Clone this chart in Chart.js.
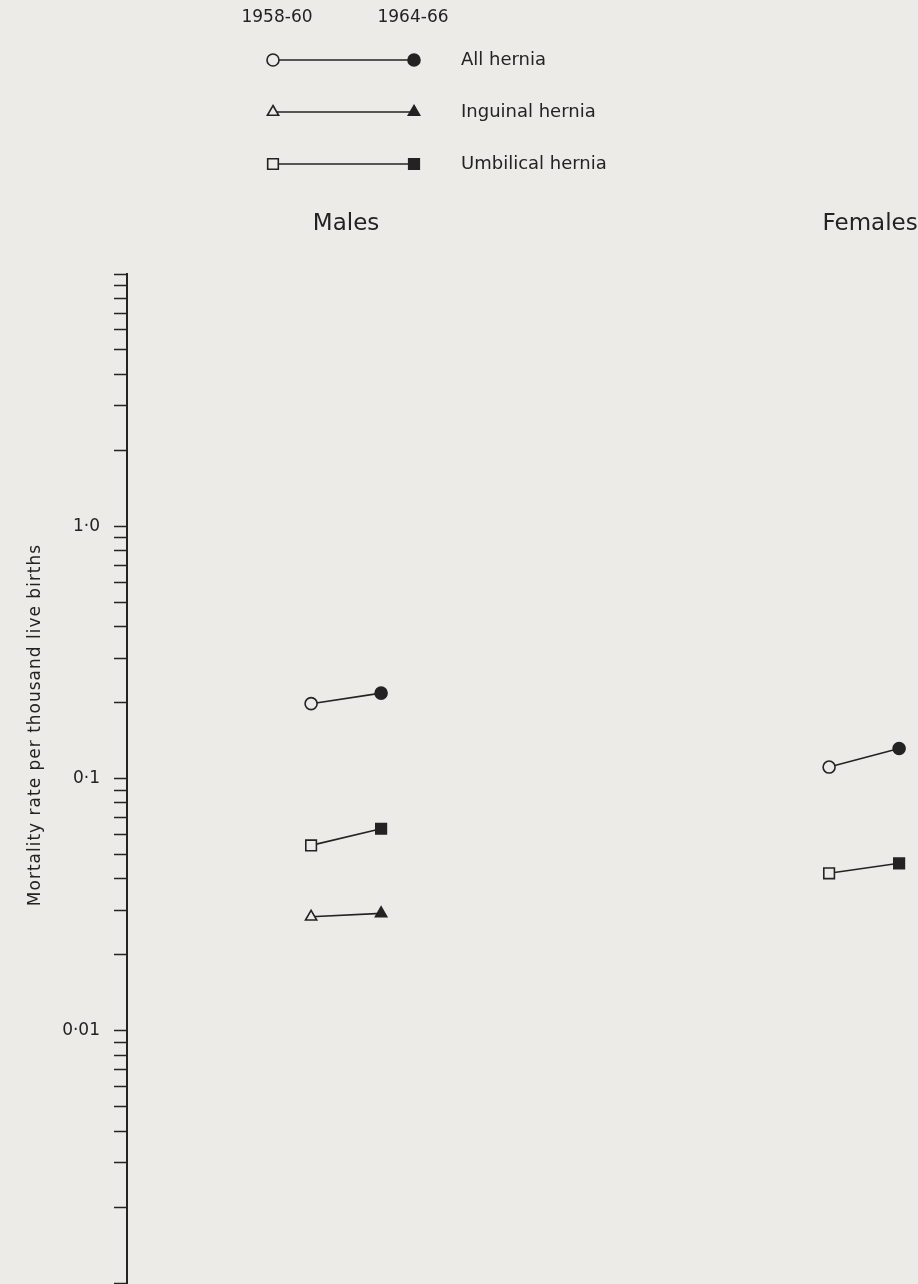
<!DOCTYPE html>
<html lang="en">
<head>
    <meta charset="UTF-8">
    <title>Hernia mortality</title>
    <style>
        body {
            margin: 0;
            background: #ecebe7;
        }
        #wrap {
            position: relative;
            width: 918px;
            height: 1284px;
        }
    </style>
    <script src="https://cdn.jsdelivr.net/npm/chart.js"></script>
</head>
<body>
    <div id="wrap"><canvas id="herniaChart"></canvas></div>

    <script>
        // Data (rate per 1000 live births)
        const periods = ['1958-60', '1964-66'];
        const groups = ['Males', 'Females'];
        const herniaTypes = ['All hernia', 'Inguinal hernia', 'Umbilical hernia'];

        const malesAll = [0.198, 0.218];
        const malesInguinal = [0.0283, 0.0292];
        const malesUmbilical = [0.0543, 0.0632];
        const femalesAll = [0.111, 0.1315];
        const femalesUmbilical = [0.0421, 0.0461];

        const labelledTicks = [0.01, 0.1, 1];
        const tickLabels = ['0·01', '0·1', '1·0'];
        const yTitle = 'Mortality rate per thousand live births';

        // Styling
        const ink = '#232323';
        const paper = '#ecebe7';
        const fontFamily = '"DejaVu Sans", sans-serif';
        const groupGap = 7.4;   // distance between Males and Females groups, in period units
        const markerStyles = ['circle', 'triangle', 'rect'];
        const markerRadius = [6, 6.5, 7.5];

        const series = [
            { group: 0, type: 0, values: malesAll },
            { group: 0, type: 1, values: malesInguinal },
            { group: 0, type: 2, values: malesUmbilical },
            { group: 1, type: 0, values: femalesAll },
            { group: 1, type: 2, values: femalesUmbilical }
        ];

        const datasets = series.map(s => ({
            label: groups[s.group] + ' ' + herniaTypes[s.type],
            data: s.values.map((v, i) => ({ x: s.group * groupGap + i, y: v })),
            showLine: true,
            borderColor: ink,
            borderWidth: 1.6,
            pointStyle: markerStyles[s.type],
            pointRadius: markerRadius[s.type],
            pointHoverRadius: markerRadius[s.type],
            pointBorderWidth: 1.6,
            pointBorderColor: ink,
            pointBackgroundColor: periods.map((p, i) => i === 0 ? paper : ink),
            clip: false
        }));

        // log ticks 1..9 per decade between 0.001 and 10
        const allTicks = [];
        for (let e = -3; e < 1; e++) {
            for (let m = 1; m < 10; m++) allTicks.push(+(m * Math.pow(10, e)).toPrecision(3));
        }
        allTicks.push(10);

        // legend, group headings, axis title
        const decorations = {
            id: 'decorations',
            afterDraw(chart) {
                const ctx = chart.ctx;
                const x = chart.scales.x;
                ctx.save();
                ctx.fillStyle = ink;
                ctx.strokeStyle = ink;
                ctx.textBaseline = 'middle';

                // period headers
                ctx.font = '17px ' + fontFamily;
                ctx.textAlign = 'center';
                ctx.fillText(periods[0], 277, 18);
                ctx.fillText(periods[1], 413, 18);

                const rowY = [60, 112, 164];
                herniaTypes.forEach((name, t) => {
                    const y = rowY[t];
                    ctx.lineWidth = 1.6;
                    ctx.beginPath();
                    ctx.moveTo(273, y);
                    ctx.lineTo(414, y);
                    ctx.stroke();
                    const opts = { pointStyle: markerStyles[t], radius: markerRadius[t], rotation: 0, borderWidth: 1.6 };
                    ctx.fillStyle = paper;
                    Chart.helpers.drawPoint(ctx, opts, 273, y);
                    ctx.fillStyle = ink;
                    Chart.helpers.drawPoint(ctx, opts, 414, y);
                    ctx.font = '18px ' + fontFamily;
                    ctx.textAlign = 'left';
                    ctx.fillText(name, 461, y);
                });

                // group titles
                ctx.font = '23px ' + fontFamily;
                ctx.textAlign = 'center';
                groups.forEach((g, i) => {
                    ctx.fillText(g, x.getPixelForValue(i * groupGap + 0.5) + i * 6, 224);
                });

                // y axis title
                ctx.font = '17px ' + fontFamily;
                ctx.letterSpacing = '1px';
                ctx.translate(36, 725);
                ctx.rotate(-Math.PI / 2);
                ctx.fillText(yTitle, 0, 0);
                ctx.restore();
            }
        };

        new Chart(document.getElementById('herniaChart'), {
            type: 'scatter',
            data: { datasets },
            options: {
                responsive: true,
                maintainAspectRatio: false,
                animation: false,
                layout: {
                    autoPadding: false,
                    padding: { top: 274, right: 0, bottom: 1, left: 0 }
                },
                plugins: {
                    legend: { display: false },
                    tooltip: { enabled: false }
                },
                scales: {
                    x: {
                        type: 'linear',
                        display: false,
                        min: -2.63,
                        max: 8.67
                    },
                    y: {
                        type: 'logarithmic',
                        min: 0.001,
                        max: 10,
                        afterFit(scale) {
                            scale.width = 127;
                            // let the axis run to the very bottom of the page
                            scale.paddingTop = 0;
                            scale.paddingBottom = 0;
                        },
                        afterBuildTicks(scale) {
                            scale.ticks = allTicks.map(v => ({ value: v, major: false }));
                        },
                        afterTickToLabelConversion(scale) {
                            scale.ticks.forEach(t => {
                                const k = labelledTicks.findIndex(v => Math.abs(v - t.value) < t.value * 1e-6);
                                t.label = k >= 0 ? tickLabels[k] : [];
                            });
                        },
                        ticks: {
                            autoSkip: false,
                            padding: 14,
                            color: ink,
                            font: { family: fontFamily, size: 17 }
                        },
                        grid: {
                            drawOnChartArea: false,
                            drawTicks: true,
                            tickLength: 13,
                            tickWidth: 1.5,
                            tickColor: ink
                        },
                        border: { display: true, color: ink, width: 2 },
                        title: { display: false }
                    }
                }
            },
            plugins: [decorations]
        });
    </script>
</body>
</html>
